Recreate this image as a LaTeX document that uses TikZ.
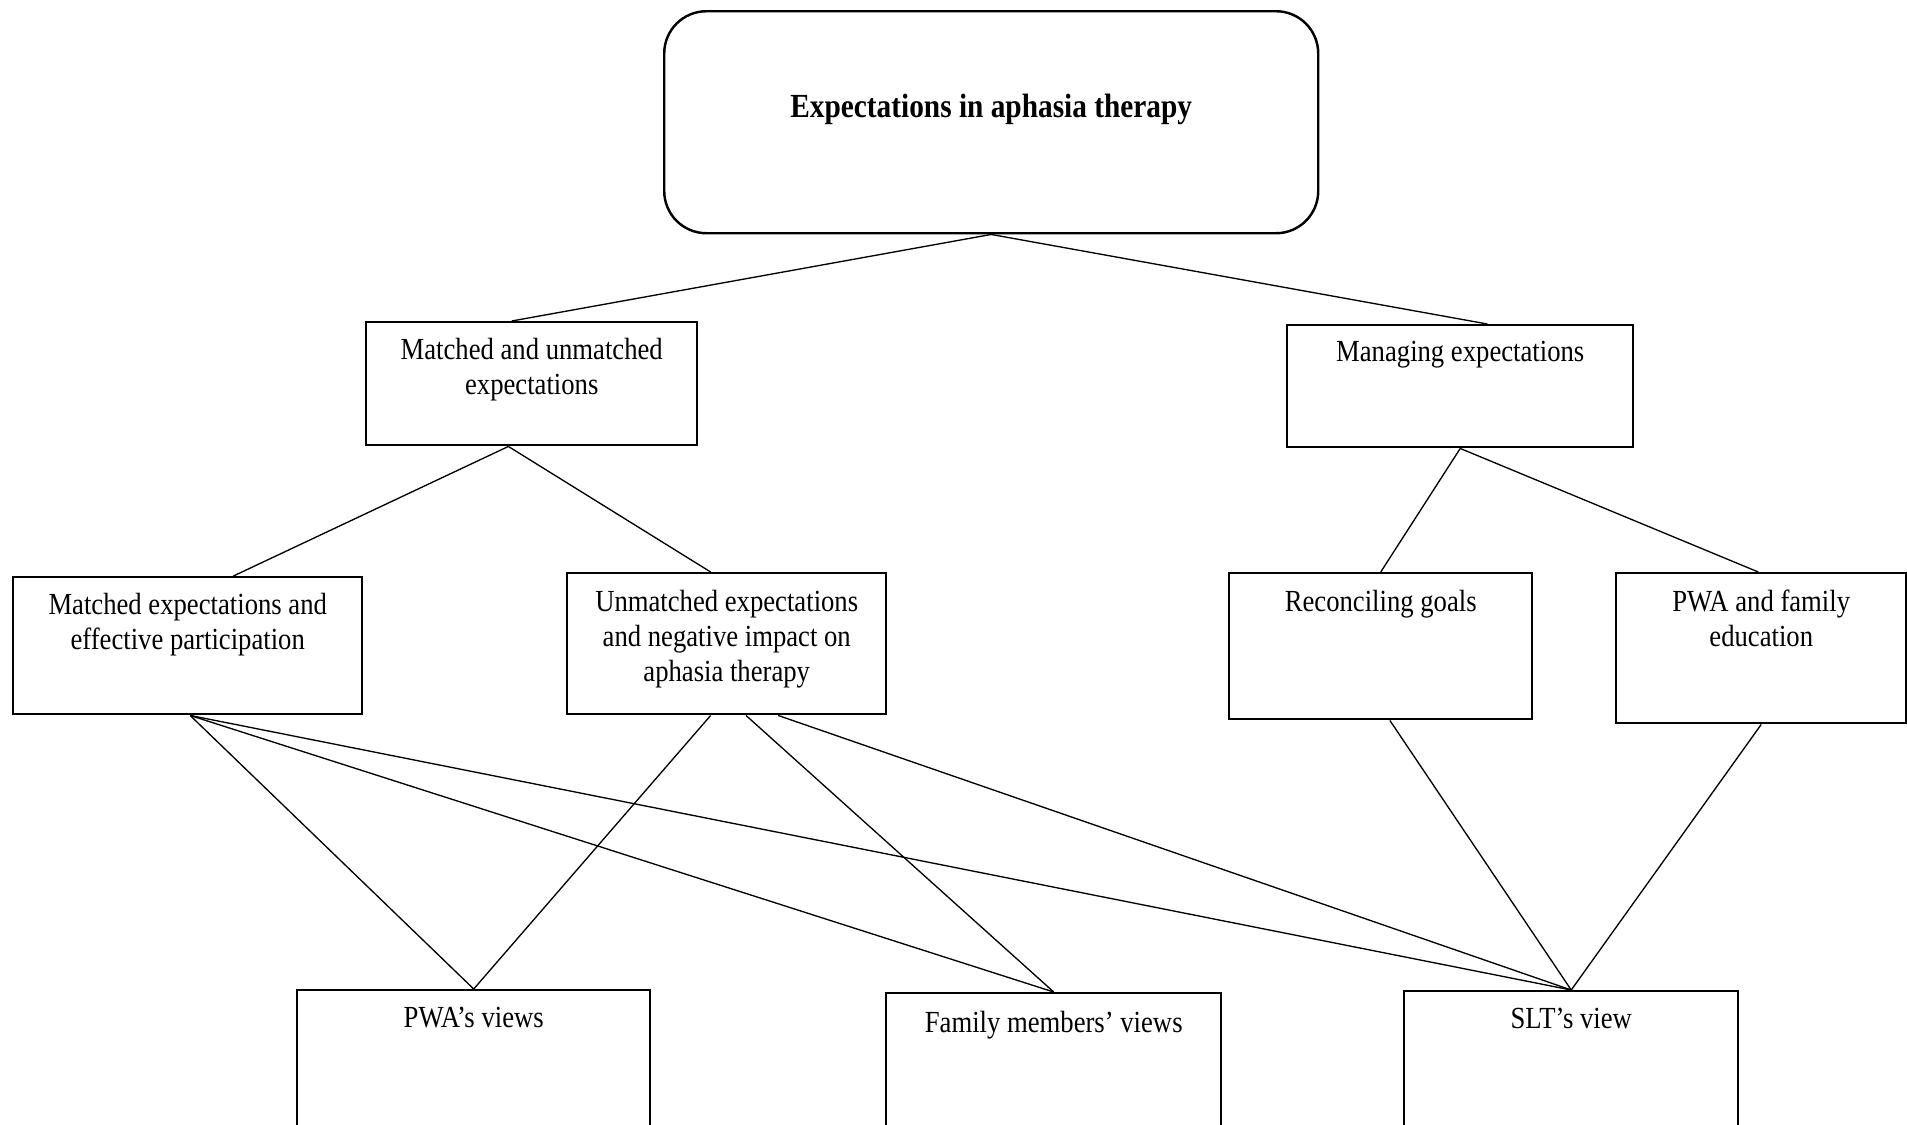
\documentclass[tikz,border=0pt]{standalone}
\usepackage{fontspec}
\setmainfont{Liberation Serif}
\usetikzlibrary{calc}

% centred rows of text, set slightly taller than wide
\newcommand\tallrows[1]{\scalebox{1}[1.15]{\begin{tabular}[t]{@{}c@{}}#1\end{tabular}}}
% rectangular box from its top-left and bottom-right corners
\newcommand\boxat[6][]{\node[box,#1,anchor=north west,
  minimum width={(#5-#3)*0.45pt},minimum height={(#6-#4)*0.45pt}] (#2) at (#3,#4) {};}

\tikzset{
  box/.style={draw,line width=1.1pt,rectangle,inner sep=0pt},
  link/.style={line width=0.6pt},
  caption/.style={anchor=base,inner sep=0pt,align=center},
}

\begin{document}
\begin{tikzpicture}[x=0.45pt,y=-0.45pt,font=\fontsize{12}{13.8}\selectfont]
\useasboundingbox (0,0) rectangle (1907,1124);
\clip (0,0) rectangle (1907,1124);

% boxes
\boxat[rounded corners=19pt]{T}{663}{10}{1317}{232}
\boxat{A}{365}{321}{696}{444}
\boxat{B}{1286}{324}{1632}{446}
\boxat{C}{12}{576}{361}{713}
\boxat{D}{566}{572}{885}{713}
\boxat{E}{1228}{572}{1531}{718}
\boxat{F}{1615}{572}{1905}{722}
\boxat{G}{296}{989}{649}{1170}
\boxat{H}{885}{992}{1220}{1170}
\boxat{I}{1403}{990}{1737}{1170}

% captions
\node[caption,font=\fontsize{13.2}{15}\selectfont\bfseries] (Tt) at ($(T.north)+(0,107)$)
  {\tallrows{Expectations in aphasia therapy}};
\node[caption] (At) at ($(A.north)+(0,38)$) {\tallrows{Matched and unmatched\\expectations}};
\node[caption] (Bt) at ($(B.north)+(0,37)$) {\tallrows{Managing expectations}};
\node[caption] (Ct) at ($(C.north)+(0,38)$) {\tallrows{Matched expectations and\\effective participation}};
\node[caption] (Dt) at ($(D.north)+(0,39)$) {\tallrows{Unmatched expectations\\and negative impact on\\aphasia therapy}};
\node[caption] (Et) at ($(E.north)+(0,39)$) {\tallrows{Reconciling goals}};
\node[caption] (Ft) at ($(F.north)+(0,39)$) {\tallrows{PWA and family\\education}};
\node[caption] (Gt) at ($(G.north)+(0,38)$) {\tallrows{PWA’s views}};
\node[caption] (Ht) at ($(H.north)+(0,40)$) {\tallrows{Family members’ views}};
\node[caption] (It) at ($(I.north)+(0,38)$) {\tallrows{SLT’s view}};

% connectors
\draw[link] (T.south) -- ($(A.north west)!0.44!(A.north east)$);
\draw[link] (T.south) -- ($(B.north west)!0.578!(B.north east)$);

\draw[link] ($(A.south west)!0.43!(A.south east)$) -- ($(C.north west)!0.63!(C.north east)$);
\draw[link] ($(A.south west)!0.43!(A.south east)$) -- ($(D.north west)!0.45!(D.north east)$);

\draw[link] (B.south) -- ($(E.north west)!0.5!(E.north east)$);
\draw[link] (B.south) -- ($(F.north west)!0.49!(F.north east)$);

\draw[link] ($(C.south west)!0.507!(C.south east)$) -- (G.north);
\draw[link] ($(C.south west)!0.507!(C.south east)$) -- (H.north);
\draw[link] ($(C.south west)!0.507!(C.south east)$) -- (I.north);

\draw[link] ($(D.south west)!0.45!(D.south east)$) -- (G.north);
\draw[link] ($(D.south west)!0.56!(D.south east)$) -- (H.north);
\draw[link] ($(D.south west)!0.66!(D.south east)$) -- (I.north);

\draw[link] ($(E.south west)!0.53!(E.south east)$) -- (I.north);
\draw[link] (F.south) -- (I.north);
\end{tikzpicture}
\end{document}
